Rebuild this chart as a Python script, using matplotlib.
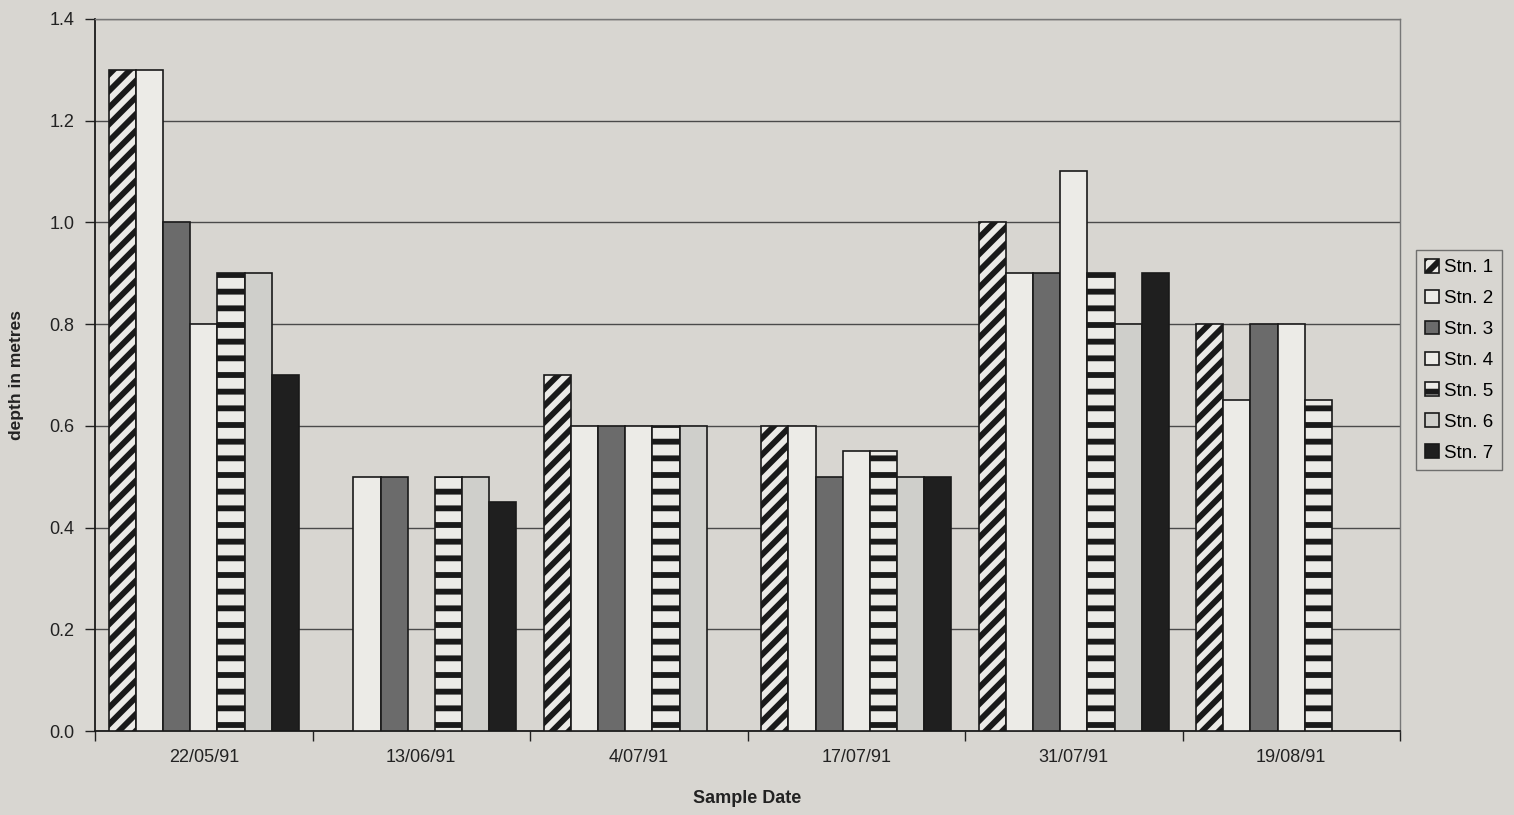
import numpy as np
import matplotlib
matplotlib.use("Agg")
import matplotlib.pyplot as plt

plt.rcParams['font.family'] = ['Liberation Sans', 'DejaVu Sans']
plt.rcParams['hatch.linewidth'] = 4.2

dates = ['22/05/91', '13/06/91', '4/07/91', '17/07/91', '31/07/91', '19/08/91']
stations = ['Stn. 1', 'Stn. 2', 'Stn. 3', 'Stn. 4', 'Stn. 5', 'Stn. 6', 'Stn. 7']
nan = np.nan
stn1 = [1.3, nan, 0.7, 0.6, 1.0, 0.8]
stn2 = [1.3, 0.5, 0.6, 0.6, 0.9, 0.65]
stn3 = [1.0, 0.5, 0.6, 0.5, 0.9, 0.8]
stn4 = [0.8, nan, 0.6, 0.55, 1.1, 0.8]
stn5 = [0.9, 0.5, 0.6, 0.55, 0.9, 0.65]
stn6 = [0.9, 0.5, 0.6, 0.5, 0.8, nan]
stn7 = [0.7, 0.45, nan, 0.5, 0.9, nan]
series = [stn1, stn2, stn3, stn4, stn5, stn6, stn7]

paper = '#d8d6d1'
# face colour, hatch for each station
styles = [('#ecebe7', '//'), ('#ecebe7', None), ('#6b6b6b', None), ('#ecebe7', None),
          ('#ecebe7', '-'), ('#cfcfcb', None), ('#1f1f1f', None)]

fig = plt.figure(figsize=(15.14, 8.15), dpi=100, facecolor=paper)
ax = fig.add_axes([0.0628, 0.103, 0.8619, 0.874])
ax.set_facecolor(paper)

x = np.arange(len(dates))
w = 0.125
for i, (vals, (fc, hatch)) in enumerate(zip(series, styles)):
    ax.bar(x + (i - 3) * w, vals, width=w, color=fc, edgecolor='#1a1a1a',
           linewidth=1.2, hatch=hatch, label=stations[i], zorder=3)

ax.set_xlim(-0.5, len(dates) - 0.5)
ax.set_ylim(0, 1.4)
ax.set_yticks(np.arange(0, 1.41, 0.2))
ax.set_yticklabels(['%.1f' % v for v in np.arange(0, 1.41, 0.2)], fontsize=13, color='#222222')
ax.yaxis.grid(True, color='#4a4a4a', linewidth=1.0, zorder=0)
ax.set_axisbelow(True)

ax.set_xticks(x)
ax.set_xticklabels(dates, fontsize=13, color='#222222')
ax.set_xticks(np.arange(-0.5, len(dates), 1.0), minor=True)
ax.tick_params(axis='x', which='major', length=0, pad=13)
ax.tick_params(axis='x', which='minor', length=7, width=1, color='#222222')
ax.tick_params(axis='y', length=7, width=1, color='#222222', pad=8)

for side in ['top', 'right']:
    ax.spines[side].set_color('#777777')
    ax.spines[side].set_linewidth(1.0)
ax.spines['left'].set_color('#1a1a1a')
ax.spines['left'].set_linewidth(1.3)
ax.spines['bottom'].set_color('#1a1a1a')
ax.spines['bottom'].set_linewidth(1.3)

ax.set_xlabel('Sample Date', fontsize=13, fontweight='bold', color='#222222', labelpad=17)
ax.set_ylabel('depth in metres', fontsize=12.5, fontweight='bold', color='#222222', labelpad=18)

leg = ax.legend(loc='center', bbox_to_anchor=(0.9637, 0.558), bbox_transform=fig.transFigure,
                fontsize=13.5, handlelength=0.75, handleheight=0.75, handletextpad=0.3,
                labelspacing=0.72, frameon=True, fancybox=False, borderpad=0.45,
                borderaxespad=0)
leg.get_frame().set_facecolor(paper)
leg.get_frame().set_edgecolor('#555555')
leg.get_frame().set_linewidth(1.0)

fig.savefig('out.png', dpi=100, facecolor=paper)
